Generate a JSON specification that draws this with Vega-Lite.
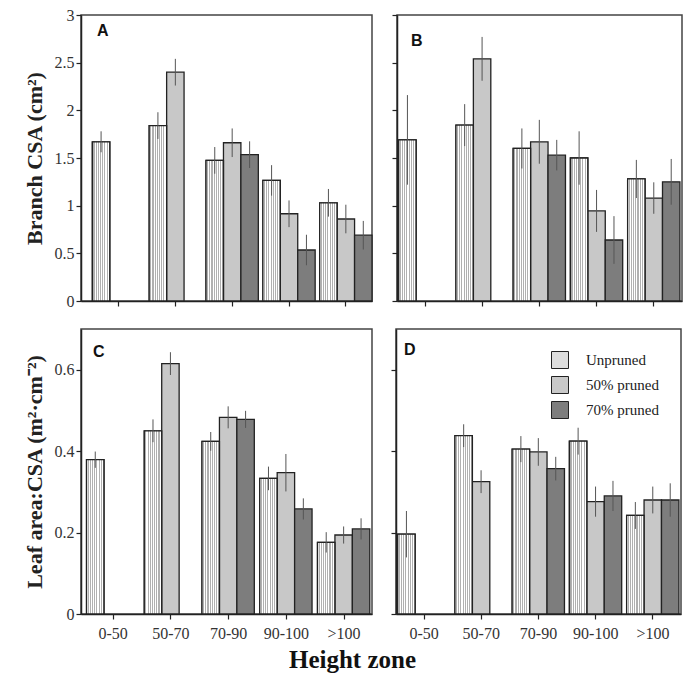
{
  "$schema": "https://vega.github.io/schema/vega-lite/v6.json",
  "padding": {"left": 22, "top": 6, "right": 0, "bottom": 4},
  "background": "white",
  "datasets": {
    "bars": [
      {"panel": "A", "zone": "0-50", "treatment": "Unpruned", "value": 1.67, "lo": 1.56, "hi": 1.78},
      {"panel": "A", "zone": "50-70", "treatment": "Unpruned", "value": 1.84, "lo": 1.70, "hi": 1.98},
      {"panel": "A", "zone": "50-70", "treatment": "50% pruned", "value": 2.40, "lo": 2.26, "hi": 2.54},
      {"panel": "A", "zone": "70-90", "treatment": "Unpruned", "value": 1.475, "lo": 1.335, "hi": 1.615},
      {"panel": "A", "zone": "70-90", "treatment": "50% pruned", "value": 1.66, "lo": 1.51, "hi": 1.81},
      {"panel": "A", "zone": "70-90", "treatment": "70% pruned", "value": 1.535, "lo": 1.395, "hi": 1.675},
      {"panel": "A", "zone": "90-100", "treatment": "Unpruned", "value": 1.265, "lo": 1.105, "hi": 1.425},
      {"panel": "A", "zone": "90-100", "treatment": "50% pruned", "value": 0.915, "lo": 0.775, "hi": 1.055},
      {"panel": "A", "zone": "90-100", "treatment": "70% pruned", "value": 0.535, "lo": 0.375, "hi": 0.695},
      {"panel": "A", "zone": ">100", "treatment": "Unpruned", "value": 1.03, "lo": 0.885, "hi": 1.175},
      {"panel": "A", "zone": ">100", "treatment": "50% pruned", "value": 0.86, "lo": 0.71, "hi": 1.01},
      {"panel": "A", "zone": ">100", "treatment": "70% pruned", "value": 0.69, "lo": 0.54, "hi": 0.84},

      {"panel": "B", "zone": "0-50", "treatment": "Unpruned", "value": 1.69, "lo": 1.22, "hi": 2.16},
      {"panel": "B", "zone": "50-70", "treatment": "Unpruned", "value": 1.845, "lo": 1.625, "hi": 2.065},
      {"panel": "B", "zone": "50-70", "treatment": "50% pruned", "value": 2.54, "lo": 2.31, "hi": 2.77},
      {"panel": "B", "zone": "70-90", "treatment": "Unpruned", "value": 1.60, "lo": 1.39, "hi": 1.81},
      {"panel": "B", "zone": "70-90", "treatment": "50% pruned", "value": 1.67, "lo": 1.44, "hi": 1.90},
      {"panel": "B", "zone": "70-90", "treatment": "70% pruned", "value": 1.53, "lo": 1.37, "hi": 1.69},
      {"panel": "B", "zone": "90-100", "treatment": "Unpruned", "value": 1.50, "lo": 1.22, "hi": 1.78},
      {"panel": "B", "zone": "90-100", "treatment": "50% pruned", "value": 0.945, "lo": 0.725, "hi": 1.165},
      {"panel": "B", "zone": "90-100", "treatment": "70% pruned", "value": 0.64, "lo": 0.39, "hi": 0.89},
      {"panel": "B", "zone": ">100", "treatment": "Unpruned", "value": 1.28, "lo": 1.08, "hi": 1.48},
      {"panel": "B", "zone": ">100", "treatment": "50% pruned", "value": 1.08, "lo": 0.915, "hi": 1.245},
      {"panel": "B", "zone": ">100", "treatment": "70% pruned", "value": 1.25, "lo": 1.01, "hi": 1.49},

      {"panel": "C", "zone": "0-50", "treatment": "Unpruned", "value": 0.379, "lo": 0.359, "hi": 0.399},
      {"panel": "C", "zone": "50-70", "treatment": "Unpruned", "value": 0.45, "lo": 0.422, "hi": 0.478},
      {"panel": "C", "zone": "50-70", "treatment": "50% pruned", "value": 0.615, "lo": 0.587, "hi": 0.643},
      {"panel": "C", "zone": "70-90", "treatment": "Unpruned", "value": 0.424, "lo": 0.401, "hi": 0.447},
      {"panel": "C", "zone": "70-90", "treatment": "50% pruned", "value": 0.483, "lo": 0.456, "hi": 0.51},
      {"panel": "C", "zone": "70-90", "treatment": "70% pruned", "value": 0.478, "lo": 0.457, "hi": 0.499},
      {"panel": "C", "zone": "90-100", "treatment": "Unpruned", "value": 0.333, "lo": 0.304, "hi": 0.362},
      {"panel": "C", "zone": "90-100", "treatment": "50% pruned", "value": 0.347, "lo": 0.301, "hi": 0.393},
      {"panel": "C", "zone": "90-100", "treatment": "70% pruned", "value": 0.258, "lo": 0.232, "hi": 0.284},
      {"panel": "C", "zone": ">100", "treatment": "Unpruned", "value": 0.176, "lo": 0.151, "hi": 0.201},
      {"panel": "C", "zone": ">100", "treatment": "50% pruned", "value": 0.194, "lo": 0.173, "hi": 0.215},
      {"panel": "C", "zone": ">100", "treatment": "70% pruned", "value": 0.209, "lo": 0.183, "hi": 0.235},

      {"panel": "D", "zone": "0-50", "treatment": "Unpruned", "value": 0.196, "lo": 0.139, "hi": 0.253},
      {"panel": "D", "zone": "50-70", "treatment": "Unpruned", "value": 0.438, "lo": 0.41, "hi": 0.466},
      {"panel": "D", "zone": "50-70", "treatment": "50% pruned", "value": 0.325, "lo": 0.297, "hi": 0.353},
      {"panel": "D", "zone": "70-90", "treatment": "Unpruned", "value": 0.405, "lo": 0.373, "hi": 0.437},
      {"panel": "D", "zone": "70-90", "treatment": "50% pruned", "value": 0.398, "lo": 0.364, "hi": 0.432},
      {"panel": "D", "zone": "70-90", "treatment": "70% pruned", "value": 0.357, "lo": 0.328, "hi": 0.386},
      {"panel": "D", "zone": "90-100", "treatment": "Unpruned", "value": 0.4245, "lo": 0.3915, "hi": 0.4575},
      {"panel": "D", "zone": "90-100", "treatment": "50% pruned", "value": 0.276, "lo": 0.239, "hi": 0.313},
      {"panel": "D", "zone": "90-100", "treatment": "70% pruned", "value": 0.29, "lo": 0.253, "hi": 0.327},
      {"panel": "D", "zone": ">100", "treatment": "Unpruned", "value": 0.242, "lo": 0.209, "hi": 0.275},
      {"panel": "D", "zone": ">100", "treatment": "50% pruned", "value": 0.28, "lo": 0.247, "hi": 0.313},
      {"panel": "D", "zone": ">100", "treatment": "70% pruned", "value": 0.28, "lo": 0.239, "hi": 0.321}
    ]
  },
  "config": {
    "font": "Liberation Serif",
    "view": {"stroke": "#444", "strokeWidth": 1.5},
    "axis": {
      "domainColor": "#222", "domainWidth": 1.5, "tickColor": "#222", "tickWidth": 1.2, "tickSize": 5,
      "labelFont": "Liberation Serif", "labelFontSize": 16, "labelColor": "#333", "grid": false,
      "titleFont": "Liberation Serif", "titleFontSize": 22, "titleFontWeight": "bold", "titleColor": "#222"
    },
    "legend": {
      "title": null,
      "symbolType": "square", "symbolSize": 289, "symbolStrokeColor": "#222", "symbolStrokeWidth": 1,
      "labelFont": "Liberation Serif", "labelFontSize": 15, "labelColor": "#222", "rowPadding": 3, "labelOffset": 17
    }
  },
  "title": {"text": "Height zone", "orient": "bottom", "anchor": "middle", "frame": "bounds", "font": "Liberation Serif", "fontSize": 25, "fontWeight": "bold", "color": "#111", "offset": 6},
  "spacing": 18,
  "resolve": {"legend": {"fill": "independent"}},
  "vconcat": [
    {
      "spacing": 16,
      "resolve": {"legend": {"fill": "independent"}},
      "hconcat": [
        {
          "width": 291, "height": 286,
          "title": {"text": "A", "anchor": "start", "frame": "group", "font": "Liberation Sans", "fontSize": 16, "fontWeight": "bold", "color": "#111", "dx": 16, "dy": 32, "offset": 0},
          "data": {"name": "bars"},
          "transform": [{"filter": "datum.panel === 'A'"}],
          "encoding": {
            "x": {"field": "zone", "type": "nominal", "sort": ["0-50", "50-70", "70-90", "90-100", ">100"], "scale": {"paddingInner": 0.08, "paddingOuter": 0.1, "align": 1}, "axis": {"labels": false, "title": null}},
            "xOffset": {"field": "treatment", "type": "nominal", "scale": {"domain": ["Unpruned", "50% pruned", "70% pruned"], "paddingInner": 0, "paddingOuter": 0}}
          },
          "layer": [
            {"mark": {"type": "bar", "stroke": "#222", "strokeWidth": 1.3},
             "encoding": {
               "y": {"field": "value", "type": "quantitative", "scale": {"domain": [0, 3]}, "axis": {"values": [0, 0.5, 1, 1.5, 2, 2.5, 3], "format": "~g", "title": "Branch CSA (cm²)", "titlePadding": 8}},
               "fill": {"field": "treatment", "type": "nominal", "scale": {"domain": ["Unpruned", "50% pruned", "70% pruned"], "range": ["#dddddd", "#c8c8c8", "#7d7d7d"]}, "legend": null}}},
            {"transform": [{"filter": "datum.treatment === 'Unpruned'"}],
             "mark": {"type": "bar", "stroke": "#222", "strokeWidth": 1.3, "fill": {"gradient": "linear", "x1": 0, "y1": 0, "x2": 1, "y2": 0, "stops": [{"offset": 0, "color": "#ffffff"}, {"offset": 0.0625, "color": "#ffffff"}, {"offset": 0.0625, "color": "#b0b0b0"}, {"offset": 0.125, "color": "#b0b0b0"}, {"offset": 0.125, "color": "#ffffff"}, {"offset": 0.1875, "color": "#ffffff"}, {"offset": 0.1875, "color": "#b0b0b0"}, {"offset": 0.25, "color": "#b0b0b0"}, {"offset": 0.25, "color": "#ffffff"}, {"offset": 0.3125, "color": "#ffffff"}, {"offset": 0.3125, "color": "#b0b0b0"}, {"offset": 0.375, "color": "#b0b0b0"}, {"offset": 0.375, "color": "#ffffff"}, {"offset": 0.4375, "color": "#ffffff"}, {"offset": 0.4375, "color": "#b0b0b0"}, {"offset": 0.5, "color": "#b0b0b0"}, {"offset": 0.5, "color": "#ffffff"}, {"offset": 0.5625, "color": "#ffffff"}, {"offset": 0.5625, "color": "#b0b0b0"}, {"offset": 0.625, "color": "#b0b0b0"}, {"offset": 0.625, "color": "#ffffff"}, {"offset": 0.6875, "color": "#ffffff"}, {"offset": 0.6875, "color": "#b0b0b0"}, {"offset": 0.75, "color": "#b0b0b0"}, {"offset": 0.75, "color": "#ffffff"}, {"offset": 0.8125, "color": "#ffffff"}, {"offset": 0.8125, "color": "#b0b0b0"}, {"offset": 0.875, "color": "#b0b0b0"}, {"offset": 0.875, "color": "#ffffff"}, {"offset": 0.9375, "color": "#ffffff"}, {"offset": 0.9375, "color": "#b0b0b0"}, {"offset": 1, "color": "#b0b0b0"}]}},
             "encoding": {"y": {"field": "value", "type": "quantitative"}}},
            {"mark": {"type": "rule", "color": "#555", "strokeWidth": 1},
             "encoding": {"y": {"field": "lo", "type": "quantitative"}, "y2": {"field": "hi"}}}
          ]
        },
        {
          "width": 285, "height": 286,
          "title": {"text": "B", "anchor": "start", "frame": "group", "font": "Liberation Sans", "fontSize": 16, "fontWeight": "bold", "color": "#111", "dx": 14, "dy": 35, "offset": 0},
          "data": {"name": "bars"},
          "transform": [{"filter": "datum.panel === 'B'"}],
          "encoding": {
            "x": {"field": "zone", "type": "nominal", "sort": ["0-50", "50-70", "70-90", "90-100", ">100"], "scale": {"paddingInner": 0.08, "paddingOuter": 0.03}, "axis": {"labels": false, "title": null}},
            "xOffset": {"field": "treatment", "type": "nominal", "scale": {"domain": ["Unpruned", "50% pruned", "70% pruned"], "paddingInner": 0, "paddingOuter": 0}}
          },
          "layer": [
            {"mark": {"type": "bar", "stroke": "#222", "strokeWidth": 1.3},
             "encoding": {
               "y": {"field": "value", "type": "quantitative", "scale": {"domain": [0, 3]}, "axis": {"values": [0, 0.5, 1, 1.5, 2, 2.5, 3], "labels": false, "title": null}},
               "fill": {"field": "treatment", "type": "nominal", "scale": {"domain": ["Unpruned", "50% pruned", "70% pruned"], "range": ["#dddddd", "#c8c8c8", "#7d7d7d"]}, "legend": null}}},
            {"transform": [{"filter": "datum.treatment === 'Unpruned'"}],
             "mark": {"type": "bar", "stroke": "#222", "strokeWidth": 1.3, "fill": {"gradient": "linear", "x1": 0, "y1": 0, "x2": 1, "y2": 0, "stops": [{"offset": 0, "color": "#ffffff"}, {"offset": 0.0625, "color": "#ffffff"}, {"offset": 0.0625, "color": "#b0b0b0"}, {"offset": 0.125, "color": "#b0b0b0"}, {"offset": 0.125, "color": "#ffffff"}, {"offset": 0.1875, "color": "#ffffff"}, {"offset": 0.1875, "color": "#b0b0b0"}, {"offset": 0.25, "color": "#b0b0b0"}, {"offset": 0.25, "color": "#ffffff"}, {"offset": 0.3125, "color": "#ffffff"}, {"offset": 0.3125, "color": "#b0b0b0"}, {"offset": 0.375, "color": "#b0b0b0"}, {"offset": 0.375, "color": "#ffffff"}, {"offset": 0.4375, "color": "#ffffff"}, {"offset": 0.4375, "color": "#b0b0b0"}, {"offset": 0.5, "color": "#b0b0b0"}, {"offset": 0.5, "color": "#ffffff"}, {"offset": 0.5625, "color": "#ffffff"}, {"offset": 0.5625, "color": "#b0b0b0"}, {"offset": 0.625, "color": "#b0b0b0"}, {"offset": 0.625, "color": "#ffffff"}, {"offset": 0.6875, "color": "#ffffff"}, {"offset": 0.6875, "color": "#b0b0b0"}, {"offset": 0.75, "color": "#b0b0b0"}, {"offset": 0.75, "color": "#ffffff"}, {"offset": 0.8125, "color": "#ffffff"}, {"offset": 0.8125, "color": "#b0b0b0"}, {"offset": 0.875, "color": "#b0b0b0"}, {"offset": 0.875, "color": "#ffffff"}, {"offset": 0.9375, "color": "#ffffff"}, {"offset": 0.9375, "color": "#b0b0b0"}, {"offset": 1, "color": "#b0b0b0"}]}},
             "encoding": {"y": {"field": "value", "type": "quantitative"}}},
            {"mark": {"type": "rule", "color": "#555", "strokeWidth": 1},
             "encoding": {"y": {"field": "lo", "type": "quantitative"}, "y2": {"field": "hi"}}}
          ]
        }
      ]
    },
    {
      "spacing": 16,
      "resolve": {"legend": {"fill": "independent"}},
      "hconcat": [
        {
          "width": 291, "height": 285,
          "title": {"text": "C", "anchor": "start", "frame": "group", "font": "Liberation Sans", "fontSize": 16, "fontWeight": "bold", "color": "#111", "dx": 12, "dy": 31, "offset": 0},
          "data": {"name": "bars"},
          "transform": [{"filter": "datum.panel === 'C'"}],
          "encoding": {
            "x": {"field": "zone", "type": "nominal", "sort": ["0-50", "50-70", "70-90", "90-100", ">100"], "scale": {"paddingInner": 0.08, "paddingOuter": 0.06, "align": 0.8}, "axis": {"labelAngle": 0, "labelPadding": 6, "title": null}},
            "xOffset": {"field": "treatment", "type": "nominal", "scale": {"domain": ["Unpruned", "50% pruned", "70% pruned"], "paddingInner": 0, "paddingOuter": 0}}
          },
          "layer": [
            {"mark": {"type": "bar", "stroke": "#222", "strokeWidth": 1.3},
             "encoding": {
               "y": {"field": "value", "type": "quantitative", "scale": {"domain": [0, 0.7]}, "axis": {"values": [0, 0.2, 0.4, 0.6], "format": "~g", "title": "Leaf area:CSA (m²·cm⁻²)", "titlePadding": 8}},
               "fill": {"field": "treatment", "type": "nominal", "scale": {"domain": ["Unpruned", "50% pruned", "70% pruned"], "range": ["#dddddd", "#c8c8c8", "#7d7d7d"]}, "legend": null}}},
            {"transform": [{"filter": "datum.treatment === 'Unpruned'"}],
             "mark": {"type": "bar", "stroke": "#222", "strokeWidth": 1.3, "fill": {"gradient": "linear", "x1": 0, "y1": 0, "x2": 1, "y2": 0, "stops": [{"offset": 0, "color": "#ffffff"}, {"offset": 0.0625, "color": "#ffffff"}, {"offset": 0.0625, "color": "#b0b0b0"}, {"offset": 0.125, "color": "#b0b0b0"}, {"offset": 0.125, "color": "#ffffff"}, {"offset": 0.1875, "color": "#ffffff"}, {"offset": 0.1875, "color": "#b0b0b0"}, {"offset": 0.25, "color": "#b0b0b0"}, {"offset": 0.25, "color": "#ffffff"}, {"offset": 0.3125, "color": "#ffffff"}, {"offset": 0.3125, "color": "#b0b0b0"}, {"offset": 0.375, "color": "#b0b0b0"}, {"offset": 0.375, "color": "#ffffff"}, {"offset": 0.4375, "color": "#ffffff"}, {"offset": 0.4375, "color": "#b0b0b0"}, {"offset": 0.5, "color": "#b0b0b0"}, {"offset": 0.5, "color": "#ffffff"}, {"offset": 0.5625, "color": "#ffffff"}, {"offset": 0.5625, "color": "#b0b0b0"}, {"offset": 0.625, "color": "#b0b0b0"}, {"offset": 0.625, "color": "#ffffff"}, {"offset": 0.6875, "color": "#ffffff"}, {"offset": 0.6875, "color": "#b0b0b0"}, {"offset": 0.75, "color": "#b0b0b0"}, {"offset": 0.75, "color": "#ffffff"}, {"offset": 0.8125, "color": "#ffffff"}, {"offset": 0.8125, "color": "#b0b0b0"}, {"offset": 0.875, "color": "#b0b0b0"}, {"offset": 0.875, "color": "#ffffff"}, {"offset": 0.9375, "color": "#ffffff"}, {"offset": 0.9375, "color": "#b0b0b0"}, {"offset": 1, "color": "#b0b0b0"}]}},
             "encoding": {"y": {"field": "value", "type": "quantitative"}}},
            {"mark": {"type": "rule", "color": "#555", "strokeWidth": 1},
             "encoding": {"y": {"field": "lo", "type": "quantitative"}, "y2": {"field": "hi"}}}
          ]
        },
        {
          "width": 285, "height": 285,
          "title": {"text": "D", "anchor": "start", "frame": "group", "font": "Liberation Sans", "fontSize": 16, "fontWeight": "bold", "color": "#111", "dx": 8, "dy": 29, "offset": 0},
          "data": {"name": "bars"},
          "transform": [{"filter": "datum.panel === 'D'"}],
          "encoding": {
            "x": {"field": "zone", "type": "nominal", "sort": ["0-50", "50-70", "70-90", "90-100", ">100"], "scale": {"paddingInner": 0.08, "paddingOuter": 0.03}, "axis": {"labelAngle": 0, "labelPadding": 6, "title": null}},
            "xOffset": {"field": "treatment", "type": "nominal", "scale": {"domain": ["Unpruned", "50% pruned", "70% pruned"], "paddingInner": 0, "paddingOuter": 0}}
          },
          "layer": [
            {"mark": {"type": "bar", "stroke": "#222", "strokeWidth": 1.3},
             "encoding": {
               "y": {"field": "value", "type": "quantitative", "scale": {"domain": [0, 0.7]}, "axis": {"values": [0, 0.2, 0.4, 0.6], "labels": false, "title": null}},
               "fill": {"field": "treatment", "type": "nominal", "scale": {"domain": ["Unpruned", "50% pruned", "70% pruned"], "range": ["#dddddd", "#c8c8c8", "#7d7d7d"]},
                        "legend": {"orient": "none", "legendX": 155, "legendY": 22, "title": null}}}},
            {"transform": [{"filter": "datum.treatment === 'Unpruned'"}],
             "mark": {"type": "bar", "stroke": "#222", "strokeWidth": 1.3, "fill": {"gradient": "linear", "x1": 0, "y1": 0, "x2": 1, "y2": 0, "stops": [{"offset": 0, "color": "#ffffff"}, {"offset": 0.0625, "color": "#ffffff"}, {"offset": 0.0625, "color": "#b0b0b0"}, {"offset": 0.125, "color": "#b0b0b0"}, {"offset": 0.125, "color": "#ffffff"}, {"offset": 0.1875, "color": "#ffffff"}, {"offset": 0.1875, "color": "#b0b0b0"}, {"offset": 0.25, "color": "#b0b0b0"}, {"offset": 0.25, "color": "#ffffff"}, {"offset": 0.3125, "color": "#ffffff"}, {"offset": 0.3125, "color": "#b0b0b0"}, {"offset": 0.375, "color": "#b0b0b0"}, {"offset": 0.375, "color": "#ffffff"}, {"offset": 0.4375, "color": "#ffffff"}, {"offset": 0.4375, "color": "#b0b0b0"}, {"offset": 0.5, "color": "#b0b0b0"}, {"offset": 0.5, "color": "#ffffff"}, {"offset": 0.5625, "color": "#ffffff"}, {"offset": 0.5625, "color": "#b0b0b0"}, {"offset": 0.625, "color": "#b0b0b0"}, {"offset": 0.625, "color": "#ffffff"}, {"offset": 0.6875, "color": "#ffffff"}, {"offset": 0.6875, "color": "#b0b0b0"}, {"offset": 0.75, "color": "#b0b0b0"}, {"offset": 0.75, "color": "#ffffff"}, {"offset": 0.8125, "color": "#ffffff"}, {"offset": 0.8125, "color": "#b0b0b0"}, {"offset": 0.875, "color": "#b0b0b0"}, {"offset": 0.875, "color": "#ffffff"}, {"offset": 0.9375, "color": "#ffffff"}, {"offset": 0.9375, "color": "#b0b0b0"}, {"offset": 1, "color": "#b0b0b0"}]}},
             "encoding": {"y": {"field": "value", "type": "quantitative"}}},
            {"mark": {"type": "rule", "color": "#555", "strokeWidth": 1},
             "encoding": {"y": {"field": "lo", "type": "quantitative"}, "y2": {"field": "hi"}}}
          ]
        }
      ]
    }
  ]
}
